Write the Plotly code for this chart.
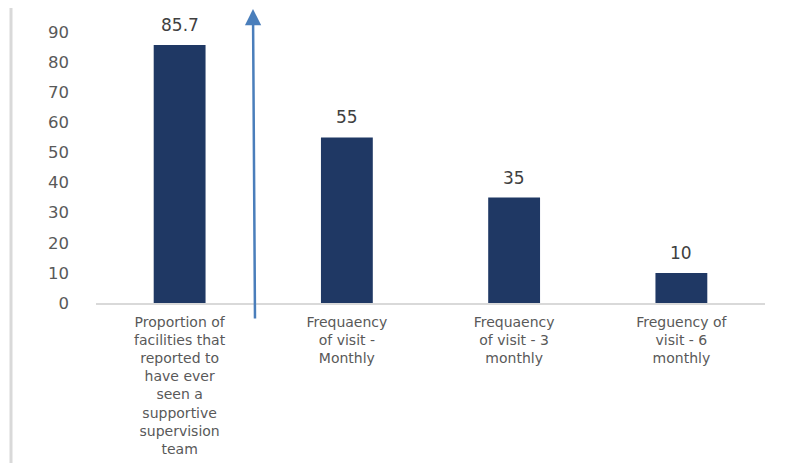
import plotly.graph_objects as go

categories = [
    "Proportion of<br>facilities that<br>reported to<br>have ever<br>seen a<br>supportive<br>supervision<br>team",
    "Frequaency<br>of visit -<br>Monthly",
    "Frequaency<br>of visit - 3<br>monthly",
    "Freguency of<br>visit - 6<br>monthly",
]
values = [85.7, 55, 35, 10]
value_labels = ["85.7", "55", "35", "10"]
y_ticks = [0, 10, 20, 30, 40, 50, 60, 70, 80, 90]

FONT = "DejaVu Sans"

fig = go.Figure()
fig.add_trace(go.Bar(
    x=categories,
    y=values,
    marker=dict(color="#1F3864", line=dict(width=0)),
    width=0.31,
))

# data labels above bars
for c, v, t in zip(categories, values, value_labels):
    fig.add_annotation(
        x=c, y=v, xref="x", yref="y", text=t, showarrow=False,
        yanchor="bottom", yshift=8,
        font=dict(family=FONT, size=17, color="#404040"),
    )

# blue arrow between first and second category
fig.add_annotation(
    x=(253 - 96) / 669, y=(303 - 9) / 271, xref="paper", yref="paper",
    ax=2, ay=311, axref="pixel", ayref="pixel",
    showarrow=True, arrowhead=2, arrowsize=1.3, arrowwidth=2.5,
    arrowcolor="#4A7EBB", text="",
)

# left border line of chart area
fig.add_shape(
    type="line", xref="paper", yref="paper",
    x0=(11 - 96) / 669, x1=(11 - 96) / 669,
    y0=(303 - 8) / 271, y1=-(463 - 303) / 271,
    line=dict(color="#D9D9D9", width=3),
)

fig.update_layout(
    width=790, height=463,
    margin=dict(l=96, r=25, t=32, b=160),
    paper_bgcolor="white", plot_bgcolor="white",
    showlegend=False,
    font=dict(family=FONT, color="#595959"),
    bargap=0.69,
)
fig.update_xaxes(
    showline=True, linecolor="#D9D9D9", linewidth=1.5,
    ticks="", tickfont=dict(family=FONT, size=14, color="#595959"),
    tickangle=0, showgrid=False, fixedrange=True, ticklabelstandoff=5,
    automargin=False,
)
fig.update_yaxes(
    range=[0, 90], tickvals=y_ticks, showgrid=False, zeroline=False,
    showline=False, ticks="", ticklabelstandoff=26, automargin=False,
    tickfont=dict(family=FONT, size=16.5, color="#595959"),
)

fig.write_html("out.html")
